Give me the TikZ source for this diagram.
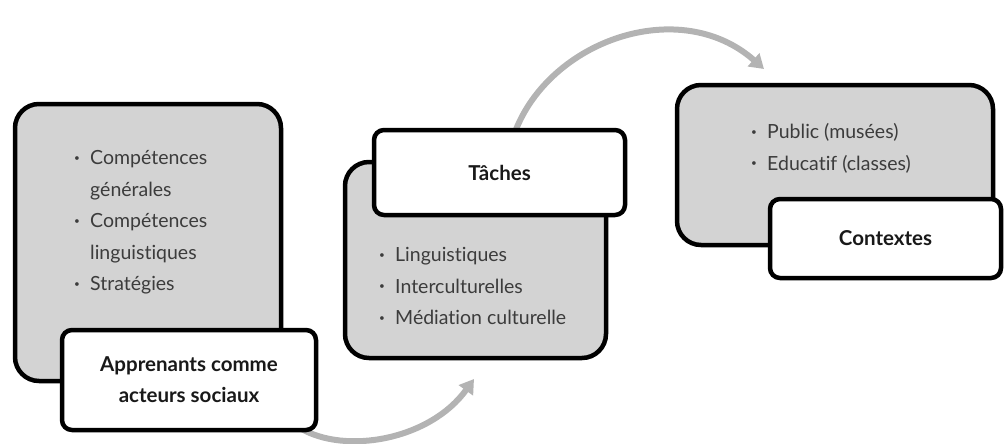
\documentclass[tikz,border=0pt]{standalone}
\usepackage{fontspec}
\setmainfont{Lato}[Ligatures=NoCommon]
\usetikzlibrary{positioning,arrows.meta}
\definecolor{boxgray}{HTML}{D3D3D3}
\definecolor{arrowgray}{HTML}{B3B3B3}
\definecolor{listtext}{HTML}{3C3C3C}
\newcommand{\bul}{\makebox[16pt][l]{\raisebox{0.35ex}{\fontsize{10}{10}\selectfont\textbullet}}}
\newcommand{\ind}{\hspace*{16pt}}

\begin{document}
\begin{tikzpicture}[x=1pt,y=-1pt,
    graybox/.style={draw, line width=4.5pt, rounded corners=24pt, fill=boxgray, inner sep=0pt},
    whitebox/.style={draw, line width=4.5pt, rounded corners=10pt, fill=white, align=center,
        font=\fontsize{20.5}{31}\selectfont\bfseries, text=black!90},
    itemlist/.style={anchor=north west, inner sep=0pt, align=left, text=listtext,
        font=\fontsize{19.5}{31.5}\selectfont},
    flow/.style={draw=arrowgray, line width=6pt, -{Triangle[length=14pt,width=17pt]}}]
    \useasboundingbox (0,0) rectangle (1006,444);

    % Fleches entre les etapes (sous les cadres)
    \coordinate (flowAstart) at (300,428);
    \coordinate (flowAend) at (474,379);
    \coordinate (flowBstart) at (515,132);
    \coordinate (flowBend) at (764,69);
    \draw[flow] (flowAstart) .. controls (345,455) and (430,440) .. (flowAend);
    \draw[flow] (flowBstart) .. controls (550,40) and (680,-5) .. (flowBend);

    % Apprenants
    \node[graybox, minimum width=266pt, minimum height=277pt] (learnbox) at (148,242.5) {};
    \node[itemlist] (learnlist) at (74,150.5)
        {\bul Compétences\\\ind générales\\\bul Compétences\\\ind linguistiques\\\bul Stratégies};
    \node[whitebox, minimum width=254pt, minimum height=100pt] (learner) at (189,380)
        {Apprenants comme\\acteurs sociaux};

    % Taches
    \node[graybox, minimum width=261pt, minimum height=196pt] (taskbox) at (475.5,260) {};
    \node[itemlist] (tasklist) at (379,247.5)
        {\bul Linguistiques\\\bul Interculturelles\\\bul Médiation culturelle};
    \node[whitebox, minimum width=251pt, minimum height=85pt] (tasks) at (499.5,172.5) {Tâches};

    % Contextes
    \node[graybox, minimum width=316pt, minimum height=160pt] (contextbox) at (835,165) {};
    \node[itemlist] (contextlist) at (751,123.5)
        {\bul Public (musées)\\\bul Educatif (classes)};
    \node[whitebox, minimum width=231pt, minimum height=79pt] (contexts) at (885.5,238.5) {Contextes};
\end{tikzpicture}
\end{document}
